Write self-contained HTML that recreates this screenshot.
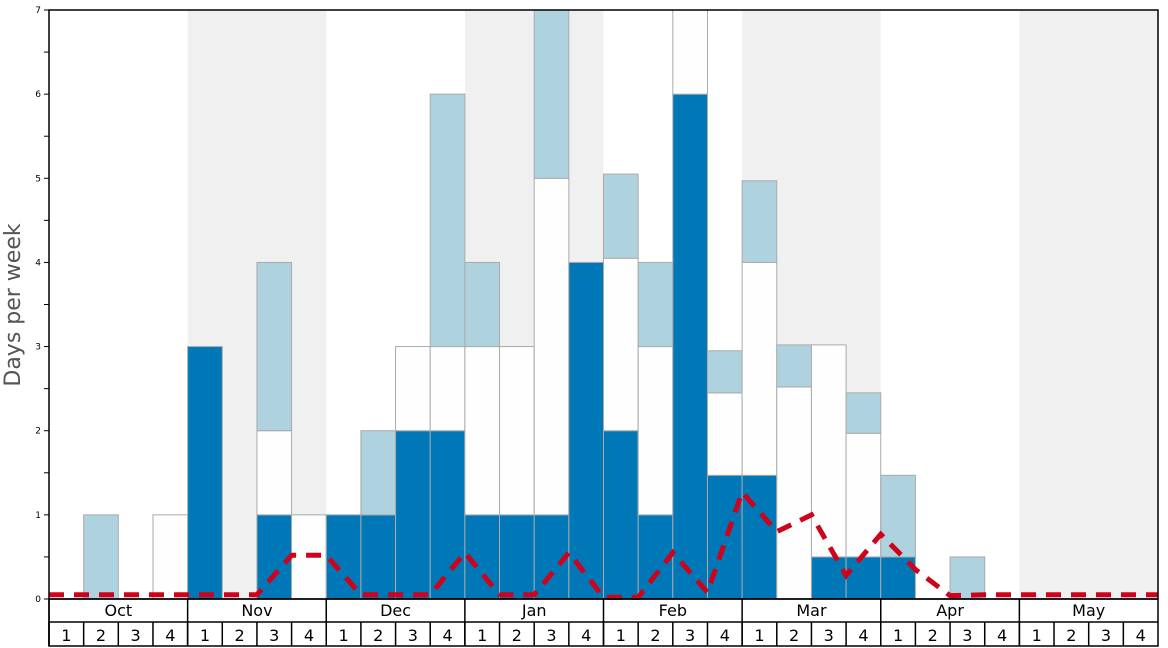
<!DOCTYPE html>
<html><head><meta charset="utf-8"><style>body{margin:0;background:#fff}svg{display:block;font-family:"DejaVu Sans","Liberation Sans",sans-serif}</style></head>
<body>
<svg id="s" width="1168" height="648" xmlns="http://www.w3.org/2000/svg"></svg>
<script>
const s=document.getElementById('s');const NS='http://www.w3.org/2000/svg';
function el(t,a,txt){const e=document.createElementNS(NS,t);for(const k in a)e.setAttribute(k,a[k]);if(txt!=null)e.textContent=txt;s.appendChild(e);return e;}
const X0=49,X1=1158,W=(X1-X0)/32,Y0=599,YT=10,U=(Y0-YT)/7;
const y=v=>Y0-v*U,x=i=>X0+i*W;
// shaded months
[1,3,5,7].forEach(m=>el('rect',{x:x(m*4),y:YT,width:W*4,height:Y0-YT,fill:'#f0f0f0'}));
const D='#0077b6',Wh='#fefefe',L='#aed3df';
const bars={1:[[L,0,1]],3:[[Wh,0,1]],4:[[D,0,3]],6:[[D,0,1],[Wh,1,2],[L,2,4]],7:[[Wh,0,1]],8:[[D,0,1]],9:[[D,0,1],[L,1,2]],10:[[D,0,2],[Wh,2,3]],11:[[D,0,2],[Wh,2,3],[L,3,6]],12:[[D,0,1],[Wh,1,3],[L,3,4]],13:[[D,0,1],[Wh,1,3]],14:[[D,0,1],[Wh,1,5],[L,5,7]],15:[[D,0,4]],16:[[D,0,2],[Wh,2,4.05],[L,4.05,5.05]],17:[[D,0,1],[Wh,1,3],[L,3,4]],18:[[D,0,6],[Wh,6,7]],19:[[D,0,1.47],[Wh,1.47,2.45],[L,2.45,2.95]],20:[[D,0,1.47],[Wh,1.47,4],[L,4,4.97]],21:[[Wh,0,2.52],[L,2.52,3.02]],22:[[D,0,0.5],[Wh,0.5,3.02]],23:[[D,0,0.5],[Wh,0.5,1.97],[L,1.97,2.45]],24:[[D,0,0.5],[L,0.5,1.47]],26:[[L,0,0.5]]};
for(const i in bars)bars[i].forEach(([c,a,b])=>el('rect',{x:x(+i),y:y(b),width:W,height:(b-a)*U,fill:c,stroke:'#aaa','stroke-width':1}));
// red line
const v=[0.05,0.05,0.05,0.05,0.05,0.05,0.05,0.52,0.52,0.05,0.05,0.05,0.55,0.05,0.05,0.55,0.02,0.02,0.55,0.08,1.27,0.8,1.0,0.28,0.77,0.35,0.04,0.05,0.05,0.05,0.05,0.05,0.05];
el('polyline',{points:v.map((a,i)=>x(i)+','+y(a)).join(' '),fill:'none',stroke:'#d0021b','stroke-width':5,'stroke-dasharray':'15,10'});
// axes
el('rect',{x:X0,y:YT,width:X1-X0,height:Y0-YT,fill:'none',stroke:'#000','stroke-width':1.5});
for(let k=0;k<=14;k++){const yy=y(k/2);el('line',{x1:X0-5,x2:X0,y1:yy,y2:yy,stroke:'#000'});if(k%2==0)el('text',{x:X0-8,y:yy+3,'font-size':9,'text-anchor':'end'},k/2);}
el('text',{x:20,y:305,'font-size':22,fill:'#555','text-anchor':'middle',transform:'rotate(-90 20 305)'},'Days per week');
// bottom table
el('rect',{x:X0,y:Y0,width:X1-X0,height:47,fill:'none',stroke:'#000','stroke-width':1.5});
el('line',{x1:X0,x2:X1,y1:622,y2:622,stroke:'#000','stroke-width':1.5});
const M=['Oct','Nov','Dec','Jan','Feb','Mar','Apr','May'];
M.forEach((m,j)=>{el('line',{x1:x(j*4),x2:x(j*4),y1:Y0,y2:646,stroke:'#000','stroke-width':1.5});el('text',{x:x(j*4+2),y:616,'font-size':16,'text-anchor':'middle'},m);
for(let w=0;w<4;w++){el('line',{x1:x(j*4+w),x2:x(j*4+w),y1:622,y2:646,stroke:'#000','stroke-width':1.5});el('text',{x:x(j*4+w)+W/2,y:641,'font-size':16,'text-anchor':'middle'},w+1);}});
</script>
</body></html>
